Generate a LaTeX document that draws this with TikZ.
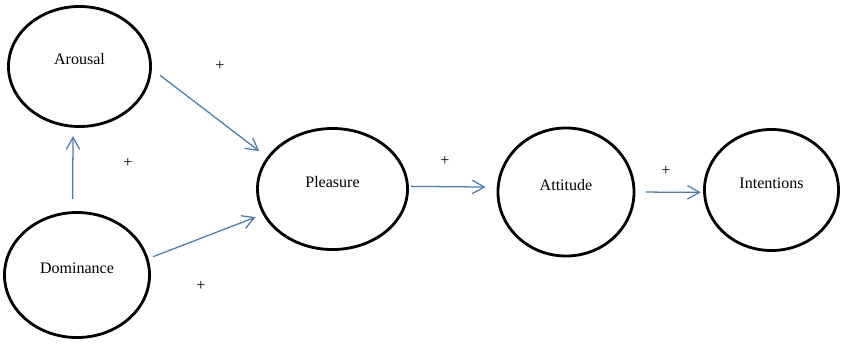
\documentclass[tikz,border=0pt]{standalone}
\usepackage{fontspec}
\setmainfont{Liberation Serif}
\usetikzlibrary{shapes.geometric,arrows.meta}
\definecolor{linkblue}{RGB}{74,126,187}

\begin{document}
\begin{tikzpicture}[x=0.025cm, y=-0.025cm,
	font=\fontsize{11.4}{13}\selectfont,
	oval/.style={ellipse, draw, line width=2pt, inner sep=0pt, text height=8pt, text depth=10.8pt},
	link/.style={linkblue, line width=0.9pt, -{Straight Barb[length=8.5pt,width=9.5pt,line width=0.9pt]}},
	sign/.style={inner sep=0pt}]
	\useasboundingbox (0,0) rectangle (842,344);

	\node (arousal)[oval, minimum width=3.55cm, minimum height=3cm] at(79.5,66.5) {Arousal};
	\node (dominance)[oval, minimum width=3.625cm, minimum height=3.125cm] at(77,275) {Dominance};
	\node (pleasure)[oval, minimum width=3.75cm, minimum height=3.025cm] at(332.5,189) {Pleasure};
	\node (attitude)[oval, minimum width=3.4cm, minimum height=3.2cm] at(566,192) {Attitude};
	\node (intentions)[oval, minimum width=3.35cm, minimum height=3.025cm] at(771.5,190) {Intentions};

	\node (s1)[sign] at(220,66) {+};
	\node (s2)[sign] at(128,163) {+};
	\node (s3)[sign] at(201,286) {+};
	\node (s4)[sign] at(445,161) {+};
	\node (s5)[sign] at(666,171) {+};

	\draw [link, shorten <=7.4pt, shorten >=7pt](arousal.-2)--(pleasure.154);
	\draw [link, shorten <=8.8pt, shorten >=6pt](dominance.94)--(arousal.264);
	\draw [link, shorten <=3.7pt, shorten >=5.5pt](dominance.13)--(pleasure.200);
	\draw [link, shorten <=1.7pt, shorten >=8pt](pleasure.2)--(attitude.176);
	\draw [link, shorten <=7.4pt, shorten >=1.7pt](attitude.east)--(intentions.182);
\end{tikzpicture}
\end{document}
